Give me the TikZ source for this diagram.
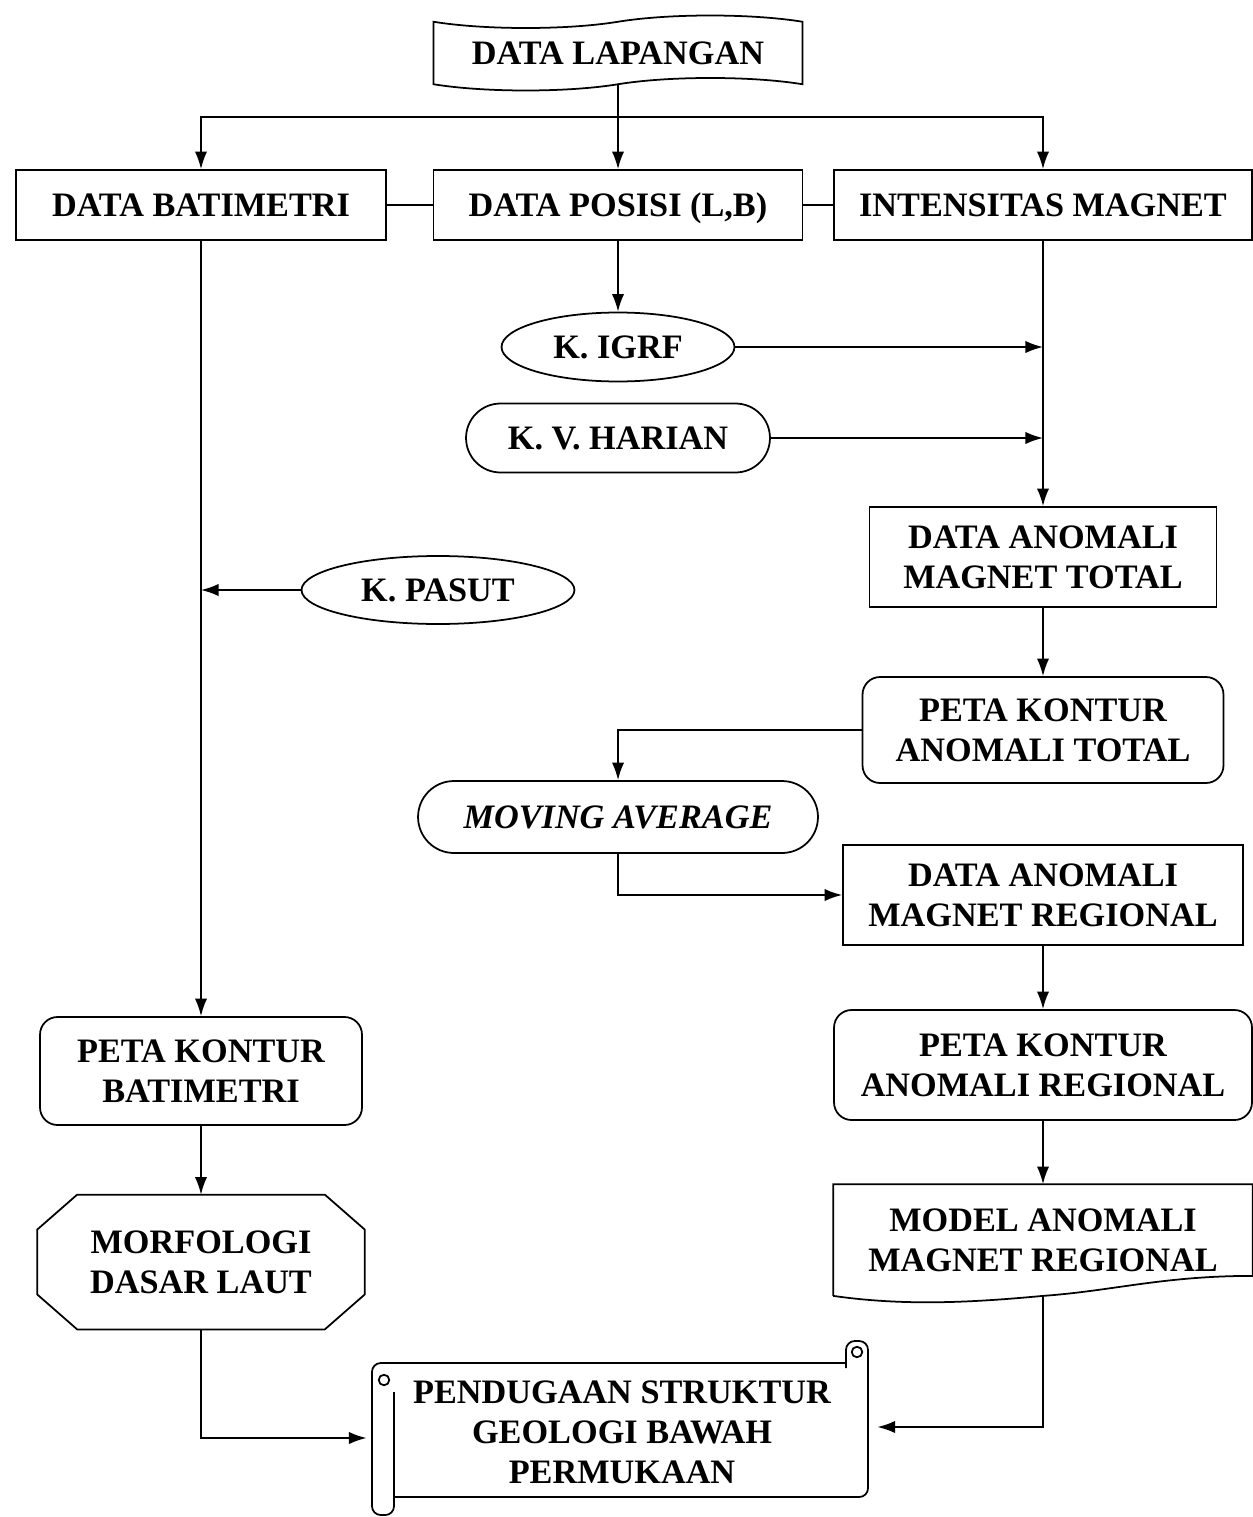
\documentclass[tikz,border=0pt]{standalone}
\usepackage{fontspec}
\setmainfont{Liberation Serif}
\usetikzlibrary{shapes.geometric,shapes.misc,shapes.symbols,arrows.meta}

\begin{document}
\begin{tikzpicture}[x = 0.02cm, y = -0.02cm, line width = 1pt,
    txt/.style = {align = center, inner sep = 0pt, text depth = 0pt,
        font = \bfseries\fontsize{19.5}{22.7}\selectfont},
    box/.style = {txt, draw, rectangle},
    rbox/.style = {box, rounded corners = 0.35cm},
    oval/.style = {txt, draw, ellipse},
    pill/.style = {txt, draw, rounded rectangle},
    arr/.style = {-{Latex[length = 10pt, width = 7pt]}}]

\useasboundingbox (0,0) rectangle (1253,1517);

% Input (tape)
\node [txt, draw, tape, tape bend height = 0.25cm,
    minimum width = 7.38cm, minimum height = 1.5cm] (lap) at (618,53) {DATA LAPANGAN};

% Top row
\node [box, minimum width = 7.4cm, minimum height = 1.4cm] (bat) at (201,205) {DATA BATIMETRI};
\node [box, minimum width = 7.38cm, minimum height = 1.4cm] (pos) at (618,205) {DATA POSISI (L,B)};
\node [box, minimum width = 8.36cm, minimum height = 1.4cm] (int) at (1043,205) {INTENSITAS MAGNET};

% Corrections
\node [oval, minimum width = 4.66cm, minimum height = 1.38cm] (igrf) at (618,347) {K. IGRF};
\node [pill, minimum width = 6.08cm, minimum height = 1.38cm] (har) at (618,438) {K. V. HARIAN};
\node [oval, minimum width = 5.46cm, minimum height = 1.36cm] (pasut) at (438,590) {K. PASUT};

% Magnet column
\node [box, minimum width = 6.94cm, minimum height = 2cm] (tot) at (1043,557)
    {DATA ANOMALI\\MAGNET TOTAL};
\node [rbox, minimum width = 7.22cm, minimum height = 2.12cm] (pkt) at (1043,730)
    {PETA KONTUR\\ANOMALI TOTAL};
\node [pill, minimum width = 8cm, minimum height = 1.44cm] (ma) at (618,817)
    {\itshape MOVING AVERAGE};
\node [box, minimum width = 8cm, minimum height = 2cm] (reg) at (1043,895)
    {DATA ANOMALI\\MAGNET REGIONAL};
\node [rbox, minimum width = 8.36cm, minimum height = 2.2cm] (pkr) at (1043,1065)
    {PETA KONTUR\\ANOMALI REGIONAL};

% Model (document)
\node [txt, minimum width = 8.36cm, minimum height = 2.2cm] (model) at (1043,1240)
    {MODEL ANOMALI\\MAGNET REGIONAL};
\draw (model.south west) -- (model.north west) -- (model.north east)
    -- ([yshift = 0.4cm]model.south east)
    .. controls ([xshift = -1.8cm, yshift = 0.4cm]model.south east)
    and ([xshift = 1.4cm, yshift = 0.1cm]model.south) .. (model.south)
    .. controls ([xshift = -1.5cm, yshift = -0.14cm]model.south)
    and ([xshift = 1.4cm, yshift = -0.2cm]model.south west) .. (model.south west);

% Bathymetry column
\node [rbox, minimum width = 6.44cm, minimum height = 2.16cm] (pkb) at (201,1071)
    {PETA KONTUR\\BATIMETRI};
\node [txt, minimum width = 6.52cm, minimum height = 2.66cm] (morf) at (201,1262)
    {MORFOLOGI\\DASAR LAUT};
\draw ([xshift = 0.8cm]morf.north west) -- ([xshift = -0.8cm]morf.north east)
    -- ([yshift = -0.7cm]morf.north east) -- ([yshift = 0.7cm]morf.south east)
    -- ([xshift = -0.8cm]morf.south east) -- ([xshift = 0.8cm]morf.south west)
    -- ([yshift = 0.7cm]morf.south west) -- ([yshift = -0.7cm]morf.north west) -- cycle;

% Result (scroll)
\node [txt, outer sep = 0.15cm, minimum width = 9.92cm, minimum height = 3.48cm] (pend)
    at (622,1432) {PENDUGAAN STRUKTUR\\GEOLOGI BAWAH\\PERMUKAAN};
\draw [rounded corners = 5pt] (394,1392) -- (394,1515) -- (372,1515) -- (372,1363) -- (846,1363);
\draw [rounded corners = 5pt] (846,1368) -- (846,1341) -- (868,1341) -- (868,1497) -- (394,1497);
\draw (384,1380) circle [radius = 3pt];
\draw (857,1352) circle [radius = 3pt];

% Connectors
\coordinate (split) at (618,117);
\draw [arr] (lap) -- (pos);
\draw [arr] (split) -| (bat);
\draw [arr] (split) -| (int);
\draw (bat) -- (pos);
\draw (pos) -- (int);
\draw [arr] (pos) -- (igrf);
\draw [arr] (igrf) -- (igrf -| int);
\draw [arr] (har) -- (har -| int);
\draw [arr] (int) -- (tot);
\draw [arr] (tot) -- (pkt);
\draw [arr] (pkt) -| (ma);
\draw [arr] (ma) |- (reg);
\draw [arr] (reg) -- (pkr);
\draw [arr] (pkr) -- (model);
\draw [arr] (model) |- ([yshift = 0.1cm]pend.east);

\draw [arr] (pasut) -- (pasut -| bat);
\draw [arr] (bat) -- (pkb);
\draw [arr] (pkb) -- (morf);
\draw [arr] (morf) |- ([yshift = -0.12cm]pend.west);

\end{tikzpicture}
\end{document}
